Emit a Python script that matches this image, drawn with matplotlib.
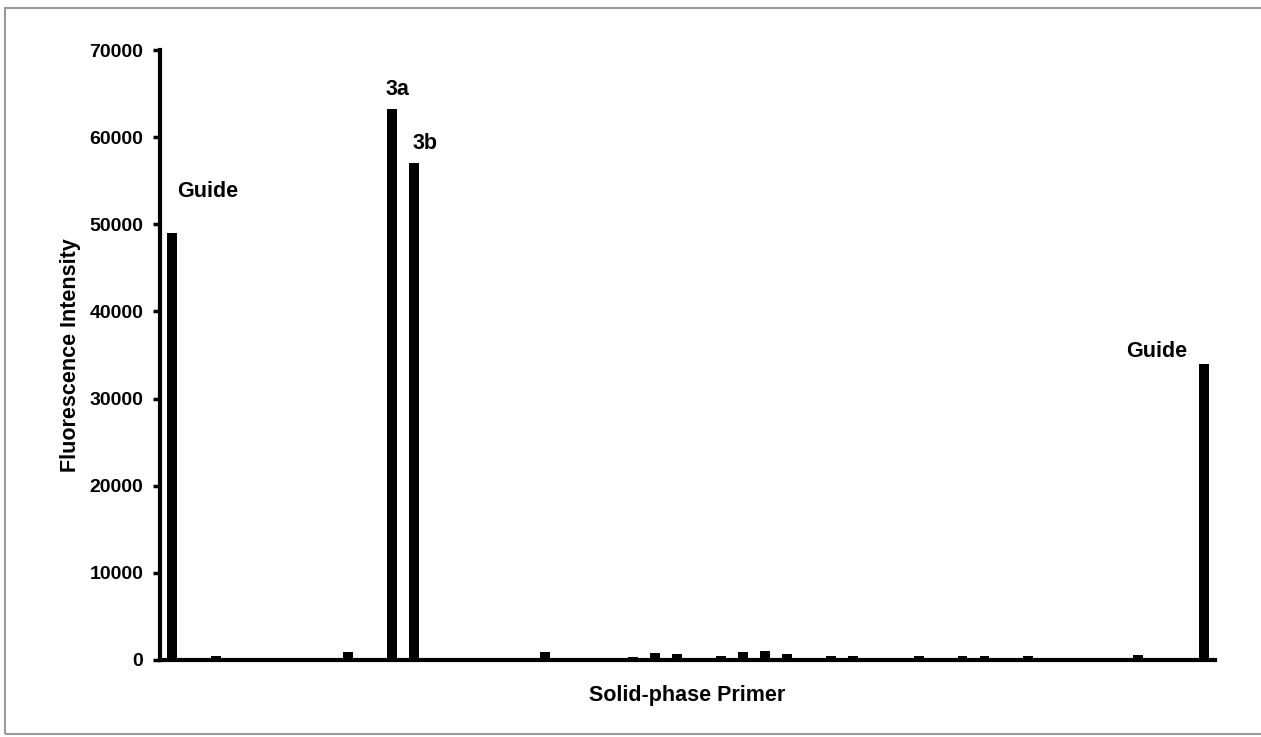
import matplotlib
matplotlib.use("Agg")
import matplotlib.pyplot as plt
from matplotlib.patches import Rectangle

plt.rcParams['font.family'] = ['Liberation Sans', 'DejaVu Sans']
plt.rcParams['font.weight'] = 'bold'

# Fluorescence intensity for each solid-phase primer position (48 positions)
values = [49000, 0, 400, 0, 0, 0, 0, 0, 900, 0,
          63200, 57000, 0, 0, 0, 250, 0, 900, 150, 0,
          200, 300, 800, 650, 0, 400, 900, 1000, 700, 100,
          500, 400, 150, 200, 450, 120, 400, 400, 120, 400,
          250, 50, 200, 0, 600, 250, 0, 34000]
annotations = {0: "Guide", 10: "3a", 11: "3b", 47: "Guide"}
yticks = [0, 10000, 20000, 30000, 40000, 50000, 60000, 70000]

fig = plt.figure(figsize=(12.61, 7.37), dpi=100)
ax = fig.add_axes([0.127, 0.1045, 0.8365, 0.8275])

x = list(range(len(values)))
ax.bar(x, values, width=0.45, color='black')

# labels
fs = 15.5
ax.text(0.23, values[0] + 4100, annotations[0], fontsize=fs, fontweight='bold', ha='left', va='baseline')
ax.text(10.25, values[10] + 1600, annotations[10], fontsize=fs, fontweight='bold', ha='center', va='baseline')
ax.text(11.5, values[11] + 1600, annotations[11], fontsize=fs, fontweight='bold', ha='center', va='baseline')
ax.text(44.85, values[47] + 750, annotations[47], fontsize=fs, fontweight='bold', ha='center', va='baseline')

ax.set_xlim(-0.55, 47.5)
ax.set_ylim(0, 70000)
ax.set_yticks(yticks)
ax.set_yticklabels([str(v) for v in yticks], fontsize=14, fontweight='bold')
ax.set_xticks([])
ax.tick_params(axis='y', direction='out', length=5, width=2.5, pad=7)

for s in ['top', 'right']:
    ax.spines[s].set_visible(False)
for s in ['left', 'bottom']:
    ax.spines[s].set_linewidth(3)

ax.set_xlabel("Solid-phase Primer", fontsize=fs, fontweight='bold', labelpad=18)
ax.set_ylabel("Fluorescence Intensity", fontsize=fs, fontweight='bold', labelpad=6)

# figure frame (left, top and bottom edges visible)
fig.patches.append(Rectangle((5/1261, 3/737), 1.2, 1 - 11/737, transform=fig.transFigure,
                             fill=False, edgecolor='#999999', linewidth=1.5))

fig.savefig("out.png", dpi=100, facecolor='white')
